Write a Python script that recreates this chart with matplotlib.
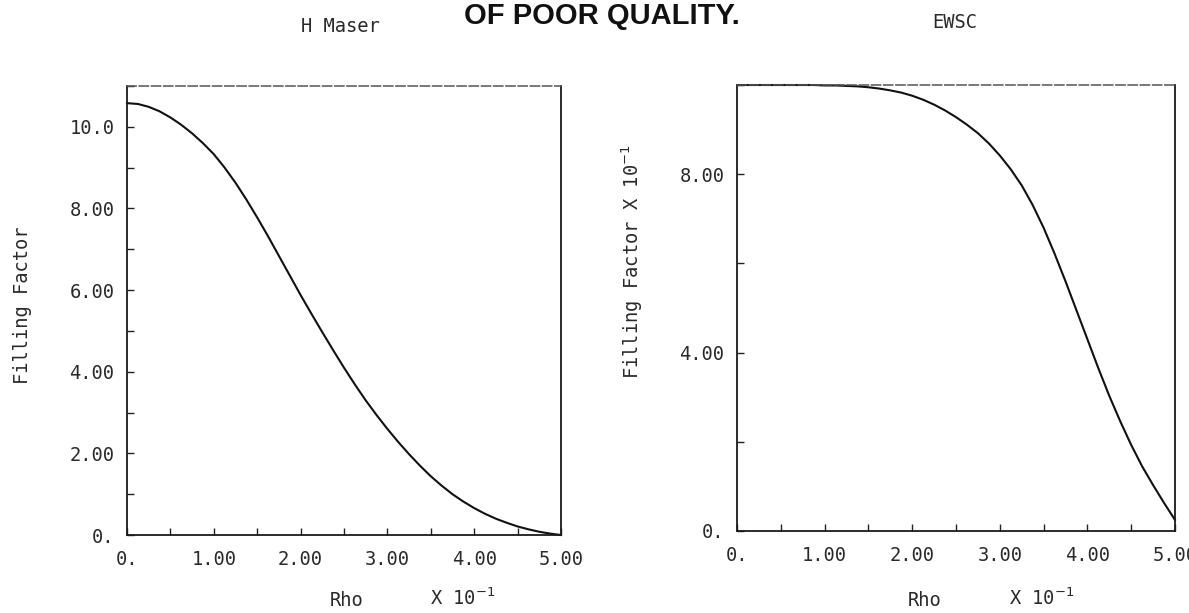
import numpy as np
import matplotlib
matplotlib.use("Agg")
import matplotlib.pyplot as plt
from matplotlib.ticker import MultipleLocator, FixedLocator, FixedFormatter

plt.rcParams['font.family'] = ['DejaVu Sans Mono']

# Rho (x 10^-1), shared by both panels
rho = [0.0, 0.125, 0.25, 0.375, 0.5, 0.625, 0.75, 0.875, 1.0, 1.125,
       1.25, 1.375, 1.5, 1.625, 1.75, 1.875, 2.0, 2.125, 2.25, 2.375,
       2.5, 2.625, 2.75, 2.875, 3.0, 3.125, 3.25, 3.375, 3.5, 3.625,
       3.75, 3.875, 4.0, 4.125, 4.25, 4.375, 4.5, 4.625, 4.75, 4.875, 5.0]

# H Maser filling factor
hmaser_ff = [10.58, 10.56, 10.49, 10.38, 10.23, 10.05, 9.84, 9.60, 9.33, 9.00,
             8.63, 8.22, 7.78, 7.32, 6.84, 6.36, 5.88, 5.42, 4.97, 4.53,
             4.10, 3.69, 3.30, 2.94, 2.60, 2.28, 1.98, 1.70, 1.44, 1.21,
             1.00, 0.82, 0.66, 0.52, 0.40, 0.30, 0.21, 0.14, 0.08, 0.035, 0.0]

# EWSC filling factor (x 10^-1)
ewsc_ff = [10.0, 10.0, 10.0, 10.0, 10.0, 10.0, 10.0, 10.0, 9.99, 9.99,
           9.98, 9.97, 9.95, 9.92, 9.88, 9.83, 9.76, 9.67, 9.56, 9.43,
           9.28, 9.11, 8.92, 8.69, 8.42, 8.11, 7.75, 7.31, 6.80, 6.22,
           5.60, 4.95, 4.30, 3.65, 3.03, 2.46, 1.93, 1.45, 1.03, 0.63, 0.25]

left_yticks = [0, 2, 4, 6, 8, 10]
left_ylabels = ['0.', '2.00', '4.00', '6.00', '8.00', '10.0']
right_yticks = [0, 4, 8]
right_ylabels = ['0.', '4.00', '8.00']
xticks = [0, 1, 2, 3, 4, 5]
xlabels = ['0.', '1.00', '2.00', '3.00', '4.00', '5.00']

txt = '#2a2a2a'
fs = 13.5

fig = plt.figure(figsize=(11.89, 6.13), dpi=100)
ax1 = fig.add_axes([0.1068, 0.1272, 0.3650, 0.7325])
ax2 = fig.add_axes([0.6199, 0.1338, 0.3683, 0.7275])


def style(ax, yticks, ylabels, yminor, ymax):
    ax.set_xlim(0, 5)
    ax.set_ylim(0, ymax)
    ax.xaxis.set_major_locator(FixedLocator(xticks))
    ax.xaxis.set_major_formatter(FixedFormatter(xlabels))
    ax.xaxis.set_minor_locator(MultipleLocator(0.5))
    ax.yaxis.set_major_locator(FixedLocator(yticks))
    ax.yaxis.set_major_formatter(FixedFormatter(ylabels))
    ax.yaxis.set_minor_locator(MultipleLocator(yminor))
    ax.tick_params(which='both', direction='in', length=5, width=1.0,
                   color='#222', top=False, right=False)
    ax.tick_params(axis='x', which='major', pad=11, labelsize=fs, labelcolor=txt)
    ax.tick_params(axis='y', which='major', pad=9, labelsize=fs, labelcolor=txt)
    for s in ['left', 'bottom', 'right']:
        ax.spines[s].set_color('#1a1a1a')
        ax.spines[s].set_linewidth(1.3)
    ax.spines['top'].set_color('#555')
    ax.spines['top'].set_linewidth(1.1)
    ax.spines['top'].set_linestyle((0, (6, 2)))


style(ax1, left_yticks, left_ylabels, 1, 11)
style(ax2, right_yticks, right_ylabels, 2, 10)

ax1.plot(rho, hmaser_ff, color='#111', lw=1.5, clip_on=False)
ax2.plot(rho, ewsc_ff, color='#111', lw=1.5, clip_on=False)

# titles
fig.text(340 / 1189, 1 - 27 / 613, 'H Maser', ha='center', va='center',
         fontsize=fs, color=txt)
fig.text(955 / 1189, 1 - 23 / 613, 'EWSC', ha='center', va='center',
         fontsize=fs, color=txt)
fig.text(602 / 1189, 1 - 16 / 613, 'OF POOR QUALITY.', ha='center', va='center',
         fontsize=21, fontweight='bold', color='#111', family='Liberation Sans')

# axis labels
fig.text(23 / 1189, 1 - 305 / 613, 'Filling Factor', rotation=90,
         ha='center', va='center', fontsize=fs, color=txt)
fig.text(632 / 1189, 1 - 262 / 613, r'Filling Factor X 10$^{-1}$', rotation=90,
         ha='center', va='center', fontsize=fs, color=txt)
fig.text(347 / 1189, 1 - 601 / 613, 'Rho', ha='center', va='center',
         fontsize=fs, color=txt)
fig.text(463 / 1189, 1 - 598 / 613, r'X 10$^{-1}$', ha='center', va='center',
         fontsize=fs, color=txt)
fig.text(925 / 1189, 1 - 601 / 613, 'Rho', ha='center', va='center',
         fontsize=fs, color=txt)
fig.text(1042 / 1189, 1 - 598 / 613, r'X 10$^{-1}$', ha='center', va='center',
         fontsize=fs, color=txt)

fig.savefig('out.png', dpi=100, facecolor='white')
